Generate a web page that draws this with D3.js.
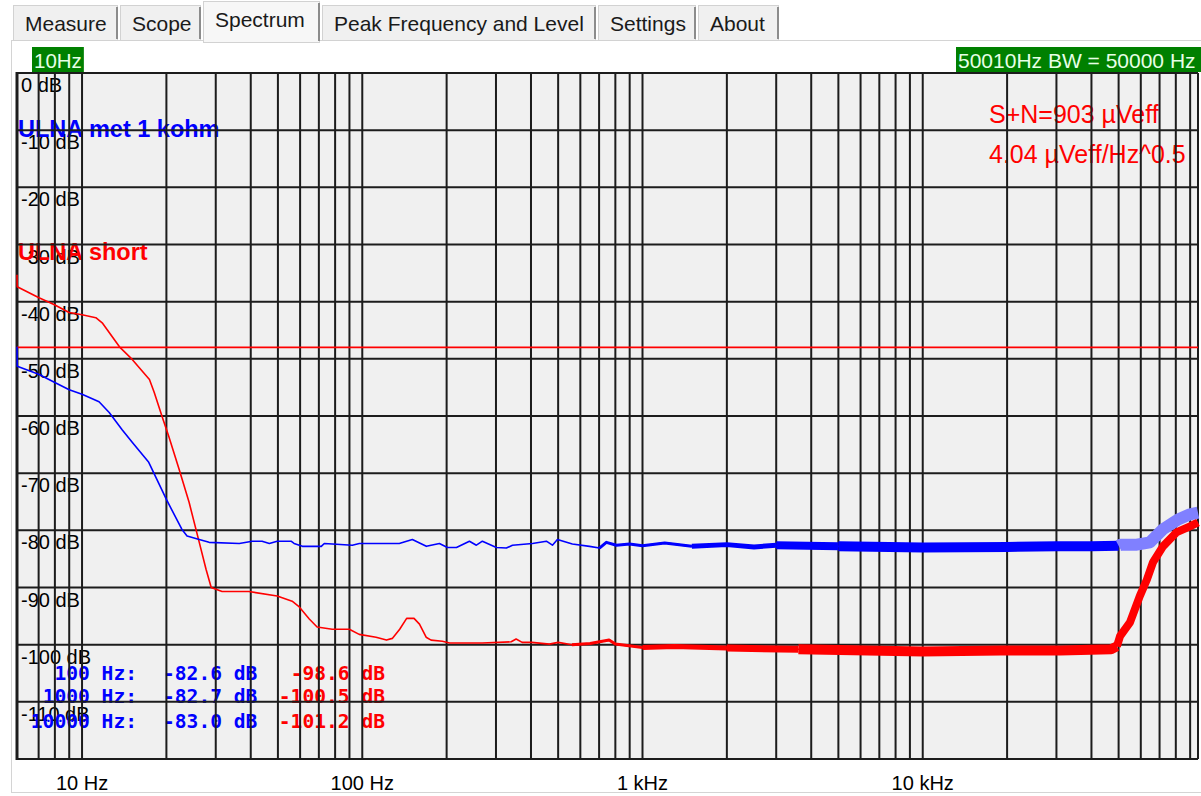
<!DOCTYPE html>
<html>
<head>
<meta charset="utf-8">
<script src="https://cdn.jsdelivr.net/npm/d3@7"></script>
<style>
body { margin:0; background:#fff; overflow:hidden; }
svg { display:block; }
</style>
</head>
<body>
<svg id="chart" width="1201" height="796"></svg>
<script>
// ---- data ----
var tabNames = ["Measure", "Scope", "Spectrum", "Peak Frequency and Level", "Settings", "About"];
var activeTab = "Spectrum";

var dbTicks = [0, -10, -20, -30, -40, -50, -60, -70, -80, -90, -100, -110];
var freqLabelVals = [10, 100, 1000, 10000];
var freqLabelText = ["10 Hz", "100 Hz", "1 kHz", "10 kHz"];

var startLabel = "10Hz";
var bwLabel = "50010Hz BW = 50000 Hz";
var bwLimit = 50010;
var refLevel = -48;   // red reference line

var seriesNames = ["ULNA met 1 kohm", "ULNA short"];

// ULNA met 1 kohm  [Hz, dB]
var ulna1k = [
  [5.86,-47.9],[5.87,-51.3],[7.0,-52.7],[7.9,-54.0],[9.0,-55.4],[10,-56.2],[11.5,-57.5],
  [12.5,-59.4],[13.9,-62.4],[15.1,-64.6],[17.3,-68.1],[20,-74.6],[22.7,-79.8],[23.7,-81.0],
  [26.2,-81.6],[28.4,-82.1],[36.4,-82.3],[40.5,-81.9],[43.9,-81.9],[46.6,-82.3],[49.7,-81.9],
  [55.7,-81.9],[57.1,-82.3],[61.1,-82.8],[71.4,-82.8],[73.2,-82.3],[92.1,-82.6],[97.6,-82.3],
  [135.5,-82.3],[150.9,-81.6],[169.3,-82.8],[188.5,-82.3],[201.3,-83.0],[216.8,-83.0],
  [241.2,-81.9],[255.4,-82.6],[268.3,-81.9],[301,-83.0],[326.7,-83.1],[343.5,-82.6],
  [404.7,-82.3],[453.9,-81.9],[477.1,-82.6],[497,-81.6],[562,-82.4],[647,-82.8],[702,-83.1],
  [743,-82.1],[807,-82.6],[899,-82.4],[1000,-82.7],[1200,-82.2],[1500,-82.8],[2000,-82.5],
  [2500,-82.9],[3000,-82.6],[5000,-82.8],[10000,-83.0],[20000,-82.9],[30000,-82.8],
  [40000,-82.8],[50000,-82.7],[50900,-82.5],[58100,-82.5],[64700,-82.1],[72000,-79.8],
  [81500,-78.1],[89900,-77.2],[96000,-76.9]
];

// ULNA short  [Hz, dB]
var ulnaShort = [
  [5.86,-35.3],[5.87,-37.4],[7.02,-39.3],[7.94,-40.5],[8.99,-41.9],[10,-42.3],[11.2,-42.8],
  [11.8,-43.7],[12.8,-46.1],[13.6,-47.9],[15.1,-50.1],[17.4,-53.6],[18.1,-55.9],[19.3,-60.1],
  [20.4,-63.6],[22.2,-69.3],[24.1,-75.1],[26.2,-82.1],[27.7,-86.8],[28.9,-90.0],[31.6,-90.7],
  [39.4,-90.7],[49.7,-91.5],[56.2,-92.4],[59.6,-93.4],[64.7,-95.5],[69,-96.9],[78.1,-97.3],
  [89.9,-97.3],[97.5,-98.2],[112,-98.7],[122,-99.2],[128,-98.9],[136,-97.3],[144,-95.4],
  [153,-95.4],[160,-96.4],[169,-98.7],[176,-99.2],[193,-99.4],[205,-99.7],[268,-99.7],
  [340,-99.5],[354,-99.0],[372,-99.6],[403,-99.6],[465,-99.9],[500,-99.6],[560,-100.0],
  [650,-99.8],[760,-99.2],[800,-99.9],[1000,-100.5],[1300,-100.3],[2000,-100.6],[3600,-100.8],
  [10000,-101.2],[19000,-101.0],[31000,-101.0],[47000,-100.8],[49300,-100.3],[50600,-98.5],
  [54900,-96.1],[59500,-91.5],[63100,-88.6],[66300,-85.6],[72000,-82.8],[80700,-80.3],
  [89900,-79.3],[96000,-78.6]
];

var markLabels = ["100 Hz:", "1000 Hz:", "10000 Hz:"];
var mark1kDb = [-82.6, -82.7, -83.0];
var markShortDb = [-98.6, -100.5, -101.2];

var noiseText = ["S+N=903 µVeff", "4.04 µVeff/Hz^0.5"];

// ---- drawing ----
var FONT = "'Liberation Sans', Arial, sans-serif";
var MONO = "'DejaVu Sans Mono', monospace";
var BLUE = "#0000ff", LIGHTBLUE = "#8080ff", RED = "#ff0000";
var svg = d3.select("#chart");

var plot = {left: 17, right: 1198, top: 73, bottom: 759};
var x = d3.scaleLog().domain([5.86, 96000]).range([plot.left, plot.right]);
var y = d3.scaleLinear().domain([0, -120]).range([plot.top, plot.bottom]);

// tab strip
var tabEdges = [13, 120, 203, 322, 598, 698, 781];
var tabs = svg.append("g");
tabNames.forEach(function(name, i) {
    var on = (name == activeTab);
    var x0 = tabEdges[i], x1 = tabEdges[i+1] - 3;
    var top = on ? 1 : 5, bot = on ? 42 : 40;
    tabs.append("rect")
        .attr("x", x0 + 0.5).attr("y", top + 0.5)
        .attr("width", x1 - x0).attr("height", bot - top)
        .attr("fill", on ? "#f7f7f7" : "#f0f0f0")
        .attr("stroke", "#d2d2d2");
    tabs.append("line")
        .attr("x1", x1).attr("x2", x1)
        .attr("y1", top + 2).attr("y2", bot - 1)
        .attr("stroke", "#8c8c8c").attr("stroke-width", 2);
    tabs.append("text")
        .attr("x", x0 + 12).attr("y", on ? 27 : 31)
        .attr("font-family", FONT).attr("font-size", 21)
        .attr("fill", "#1a1a1a")
        .text(name);
});

// panel
svg.insert("rect", ":first-child")
    .attr("x", 11.5).attr("y", 40.5).attr("width", 1200).attr("height", 752)
    .attr("fill", "#fff").attr("stroke", "#d4d4d4");
tabs.raise();

// plot background
svg.append("rect")
    .attr("x", plot.left).attr("y", plot.top)
    .attr("width", plot.right - plot.left).attr("height", plot.bottom - plot.top)
    .attr("fill", "#f0f0f0");

// green labels above plot
function greenLabel(txt, xPos, size, toEdge) {
    var g = svg.append("g");
    var t = g.append("text")
        .attr("x", xPos).attr("y", 68)
        .attr("font-family", FONT).attr("font-size", size)
        .attr("fill", "#e6ffe6")
        .text(txt);
    var bb = t.node().getBBox();
    g.insert("rect", "text")
        .attr("x", bb.x - 2).attr("y", 47)
        .attr("width", toEdge ? 1201 - bb.x + 2 : bb.width + 4).attr("height", 25)
        .attr("fill", "#008000");
}
greenLabel(startLabel, 34, 20.5, false);
greenLabel(bwLabel, 958, 21, true);

// y labels
svg.append("g").selectAll("text")
    .data(dbTicks).enter()
    .append("text")
    .attr("x", 21)
    .attr("y", function(d) { return y(d) + 19; })
    .attr("font-family", FONT).attr("font-size", 20)
    .attr("fill", "#000")
    .text(function(d) { return d + " dB"; });

// x labels
svg.append("g").selectAll("text")
    .data(freqLabelVals).enter()
    .append("text")
    .attr("x", function(d) { return x(d); })
    .attr("y", 790)
    .attr("text-anchor", "middle")
    .attr("font-family", FONT).attr("font-size", 20)
    .attr("fill", "#000")
    .text(function(d, i) { return freqLabelText[i]; });

// legend
svg.append("text")
    .attr("x", 18).attr("y", 137)
    .attr("font-family", FONT).attr("font-size", 23.5).attr("font-weight", "bold")
    .attr("fill", BLUE).text(seriesNames[0]);
svg.append("text")
    .attr("x", 18).attr("y", 260)
    .attr("font-family", FONT).attr("font-size", 23.5).attr("font-weight", "bold")
    .attr("fill", RED).text(seriesNames[1]);

// spot readings
var rowY = [680, 703, 728];
var marks = svg.append("g")
    .attr("font-family", MONO).attr("font-size", 19.6).attr("font-weight", "bold");
markLabels.forEach(function(lbl, i) {
    marks.append("text").attr("x", 137).attr("y", rowY[i])
        .attr("text-anchor", "end").attr("fill", BLUE).text(lbl);
    marks.append("text").attr("x", 163).attr("y", rowY[i])
        .attr("fill", BLUE).text(mark1kDb[i].toFixed(1) + " dB");
    marks.append("text").attr("x", 385).attr("y", rowY[i])
        .attr("text-anchor", "end").attr("fill", RED).text(markShortDb[i].toFixed(1) + " dB");
});

// noise readout
svg.append("g").selectAll("text")
    .data(noiseText).enter()
    .append("text")
    .attr("x", 989)
    .attr("y", function(d, i) { return 123 + i * 40; })
    .attr("font-family", FONT).attr("font-size", 25)
    .attr("fill", RED)
    .text(function(d) { return d; });

// grid
var gridF = [];
for (var k = 0; k < 5; k++) {
    for (var m = 1; m <= 9; m++) {
        var f = m * Math.pow(10, k);
        if (f > 6.5 && f < 96000) gridF.push(f);
    }
}
var grid = svg.append("g").attr("stroke", "#1c1c1c").attr("stroke-width", 2);
grid.selectAll(".vg").data(gridF).enter()
    .append("line")
    .attr("x1", function(d) { return x(d); })
    .attr("x2", function(d) { return x(d); })
    .attr("y1", plot.top).attr("y2", plot.bottom);
grid.selectAll(".hg").data(dbTicks.concat([-120])).enter()
    .append("line")
    .attr("x1", plot.left).attr("x2", plot.right)
    .attr("y1", function(d) { return y(d); })
    .attr("y2", function(d) { return y(d); });
grid.append("line")
    .attr("x1", plot.left).attr("x2", plot.left)
    .attr("y1", plot.top - 1).attr("y2", plot.bottom + 1)
    .attr("stroke-width", 3);
grid.append("line")
    .attr("x1", plot.right).attr("x2", plot.right)
    .attr("y1", plot.top).attr("y2", plot.bottom);

// reference line
svg.append("line")
    .attr("x1", plot.left).attr("x2", plot.right)
    .attr("y1", y(refLevel)).attr("y2", y(refLevel))
    .attr("stroke", RED).attr("stroke-width", 1.6);

// traces
var line = d3.line()
    .x(function(d) { return x(d[0]); })
    .y(function(d) { return y(d[1]); });

function part(data, f0, f1) {
    return data.filter(function(d) { return d[0] >= f0 && d[0] <= f1; });
}
function drawPath(data, color, w) {
    svg.append("path")
        .datum(data)
        .attr("d", line)
        .attr("fill", "none")
        .attr("stroke", color)
        .attr("stroke-width", w)
        .attr("stroke-linejoin", "round");
}

// thickness of the noisy trace per frequency range (style only)
var shortBands = [[560, 1000, 3], [1000, 2000, 5], [2000, 3600, 7], [3600, 49300, 10], [49300, 96000, 8]];
var kohmBands = [[700, 1500, 3], [1500, 3000, 5], [3000, 5000, 8], [5000, 50000, 10]];

drawPath(ulnaShort, RED, 1.6);
shortBands.forEach(function(b) { drawPath(part(ulnaShort, b[0], b[1]), RED, b[2]); });

drawPath(part(ulna1k, 0, bwLimit), BLUE, 1.6);
kohmBands.forEach(function(b) { drawPath(part(ulna1k, b[0], b[1]), BLUE, b[2]); });
drawPath(part(ulna1k, 50000, 96000), LIGHTBLUE, 12);
</script>
</body>
</html>
